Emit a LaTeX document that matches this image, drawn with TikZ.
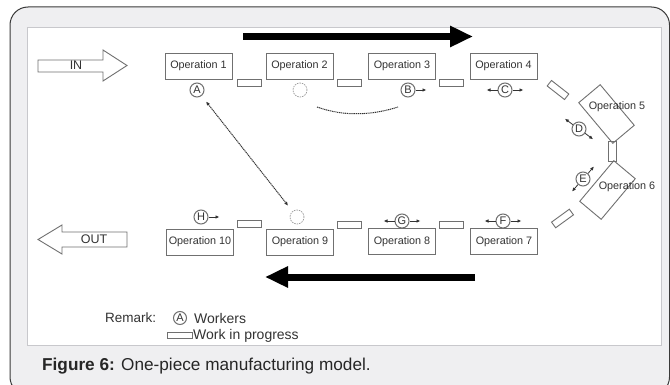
\documentclass[tikz,border=0pt]{standalone}
\usepackage{fontspec}
\setmainfont{Liberation Sans}
\usetikzlibrary{arrows.meta,calc}

\definecolor{frameline}{HTML}{3A3A3A}
\definecolor{framefill}{HTML}{EFEFF1}
\definecolor{panelline}{HTML}{C8C8CC}
\definecolor{boxline}{HTML}{707070}
\definecolor{ink}{HTML}{333333}

\tikzset{
  opbox/.style={draw=boxline, line width=0.9pt, minimum width=67pt, minimum height=26pt,
    inner sep=0pt, text=ink, font=\fontsize{10.8}{12}\selectfont},
  tiltbox/.style={draw=boxline, line width=0.9pt, minimum width=53pt, minimum height=28pt, inner sep=0pt},
  optext/.style={text=ink, inner sep=0pt, font=\fontsize{10.8}{12}\selectfont},
  wip/.style={draw=boxline, line width=0.9pt, minimum width=24pt, minimum height=7pt, inner sep=0pt},
  worker/.style={circle, draw=boxline, line width=1pt, minimum size=14pt, inner sep=0pt,
    text=ink, font=\fontsize{11}{12}\selectfont},
  gone/.style={circle, draw=boxline!70, dash pattern=on 1.5pt off 1pt, line width=0.7pt,
    minimum size=14pt, inner sep=0pt},
  move/.style={-{Latex[length=4pt,width=3.5pt]}, line width=0.8pt, draw=ink},
  trail/.style={draw=ink, line width=1pt, dash pattern=on 1.2pt off 0.7pt},
  flow/.style={line width=7pt, -{Triangle[length=23pt,width=20pt]}},
  inout/.style={draw=boxline, line width=0.9pt, fill=white},
  legend/.style={text=ink, inner sep=0pt, anchor=west, font=\fontsize{14}{16}\selectfont}
}

\begin{document}
\begin{tikzpicture}[x=1pt, y=-1pt]
  \useasboundingbox (0,0) rectangle (670,385);
  % frame and panel
  \filldraw[fill=framefill, draw=frameline, line width=1pt, rounded corners=18pt] (10,7) rectangle (669.5,395);
  \filldraw[fill=white, draw=panelline, line width=0.8pt] (27,27) rectangle (661,345);

  % in and out
  \draw[inout] (38,60) -- (103,60) -- (103,50) -- (127,65.5) -- (103,81) -- (103,72) -- (38,72) -- cycle;
  \node[optext, font=\fontsize{12.5}{14}\selectfont] (in) at (76,65) {IN};
  \draw[inout] (38,239.5) -- (62,225) -- (62,232) -- (127,232) -- (127,247) -- (62,247) -- (62,254) -- cycle;
  \node[optext, font=\fontsize{12.5}{14}\selectfont] (out) at (94,239.5) {OUT};

  % big flow arrows
  \coordinate (topS) at (243,36.5);
  \coordinate (topE) at (473,36.5);
  \coordinate (botS) at (475,277);
  \coordinate (botE) at (265,277);
  \draw[flow] (topS) -- (topE);
  \draw[flow] (botS) -- (botE);

  % operations
  \node[opbox] (op1) at (198.5,66) {Operation 1};
  \node[opbox] (op2) at (299.5,66) {Operation 2};
  \node[opbox] (op3) at (402,66) {Operation 3};
  \node[opbox] (op4) at (503.5,66) {Operation 4};
  \node[tiltbox, rotate=-50] (op5) at (606.5,114) {};
  \node[optext] (op5txt) at (617,107) {Operation 5};
  \node[tiltbox, rotate=50] (op6) at (607.5,190) {};
  \node[optext] (op6txt) at (627,187) {Operation 6};
  \node[opbox] (op7) at (504,241.5) {Operation 7};
  \node[opbox] (op8) at (402,241.5) {Operation 8};
  \node[opbox] (op9) at (300,242) {Operation 9};
  \node[opbox] (op10) at (200,242) {Operation 10};

  % work in progress
  \node[wip] (wip12) at (249,82.5) {};
  \node[wip] (wip23) at (349,82.5) {};
  \node[wip] (wip34) at (451,82.5) {};
  \node[wip, minimum width=22pt, rotate=-38] (wip45) at (558,90) {};
  \node[wip, minimum width=20pt, minimum height=8pt, rotate=90] (wip56) at (612,151) {};
  \node[wip, minimum width=22pt, rotate=36] (wip67) at (562.5,218.5) {};
  \node[wip] (wip78) at (451.5,225) {};
  \node[wip] (wip89) at (349.5,225) {};
  \node[wip] (wip910) at (249.5,223.5) {};

  % workers
  \node[worker] (wA) at (197,90) {A};
  \node[gone] (gone2) at (300,90) {};
  \node[worker] (wB) at (408,90) {B};
  \node[worker] (wC) at (505,90) {C};
  \node[worker] (wD) at (579,129) {D};
  \node[worker] (wE) at (583,179) {E};
  \node[worker] (wF) at (503,221) {F};
  \node[worker] (wG) at (402,221) {G};
  \node[gone] (gone9) at (297,217) {};
  \node[worker] (wH) at (201,217) {H};

  \draw[move] (wB.east) -- +(11,0);
  \draw[move] (wC.east) -- +(11,0);
  \draw[move] (wC.west) -- +(-11,0);
  \draw[move] (wD.145) -- +(-8,-6);
  \draw[move] (wD.-35) -- +(8,6);
  \draw[move] (wE.48) -- +(6,-7);
  \draw[move] (wE.228) -- +(-6,7);
  \draw[move] (wF.east) -- +(11,0);
  \draw[move] (wF.west) -- +(-11,0);
  \draw[move] (wG.east) -- +(11,0);
  \draw[move] (wG.west) -- +(-11,0);
  \draw[move] (wH.east) -- +(11,0);

  % moves of the absent workers
  \draw[trail, {Latex[length=4pt,width=3.5pt]}-{Latex[length=4pt,width=3.5pt]},
    shorten <=7pt, shorten >=7pt] (wA) -- (gone9);
  \draw[trail]
    ($(gone2)+(17,17)$) .. controls ($(gone2)+(45,27)$) and ($(wB)+(-35,25)$) .. ($(wB)+(-10,17)$);

  % remark
  \node[legend, font=\fontsize{13.5}{15}\selectfont] (remark) at (105,318) {Remark:};
  \node[worker, minimum size=13pt] (keyA) at (180,318) {A};
  \node[legend] (keyAtxt) at (194,318) {Workers};
  \node[wip, minimum width=25pt, minimum height=6pt] (keyW) at (180,335) {};
  \node[legend] (keyWtxt) at (193,335.5) {Work in progress};

  % caption
  \node[anchor=west, inner sep=0pt, text=black!85, font=\fontsize{17.2}{19}\selectfont] (caption) at (42,366)
    {\textbf{Figure 6:} One-piece manufacturing model.};
\end{tikzpicture}
\end{document}
